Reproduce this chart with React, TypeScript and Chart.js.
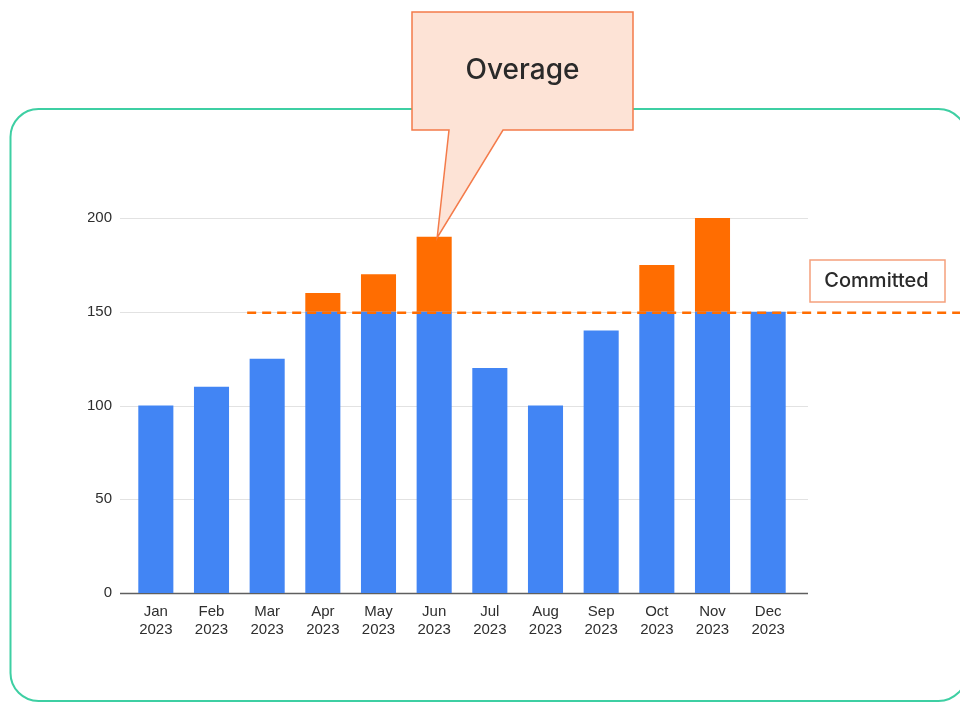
import React, { useEffect, useRef } from "react";
import { Chart, registerables } from "chart.js";

Chart.register(...registerables);

const months = ["Jan", "Feb", "Mar", "Apr", "May", "Jun", "Jul", "Aug", "Sep", "Oct", "Nov", "Dec"];
const yearLabel = "2023";
const usage = [100, 110, 125, 160, 170, 190, 120, 100, 140, 175, 200, 150];
const committed = 150;
const yTicks = [0, 50, 100, 150, 200];
const calloutText = "Overage";
const committedText = "Committed";
const calloutMonthIndex = 5;

const BLUE = "#4285F4";
const ORANGE = "#FF6D01";
const TEAL = "#3ECFA3";
const TICK_FONT = "'Liberation Sans', Arial, sans-serif";
const LABEL_FONT = "Inter, 'Open Sans', sans-serif";

function roundRectPath(ctx: CanvasRenderingContext2D, x: number, y: number, w: number, h: number, r: number) {
  ctx.beginPath();
  ctx.moveTo(x + r, y);
  ctx.lineTo(x + w - r, y);
  ctx.arcTo(x + w, y, x + w, y + r, r);
  ctx.lineTo(x + w, y + h - r);
  ctx.arcTo(x + w, y + h, x + w - r, y + h, r);
  ctx.lineTo(x + r, y + h);
  ctx.arcTo(x, y + h, x, y + h - r, r);
  ctx.lineTo(x, y + r);
  ctx.arcTo(x, y, x + r, y, r);
  ctx.closePath();
}

const cardPlugin = {
  id: "card",
  beforeDraw(chart: any) {
    const ctx = chart.ctx as CanvasRenderingContext2D;
    ctx.save();
    ctx.fillStyle = "#ffffff";
    ctx.fillRect(0, 0, chart.width, chart.height);
    roundRectPath(ctx, 10.5, 109, 956, 592, 28);
    ctx.strokeStyle = TEAL;
    ctx.lineWidth = 2;
    ctx.stroke();
    ctx.restore();
  },
};

const gridPlugin = {
  id: "customGrid",
  beforeDatasetsDraw(chart: any) {
    const ctx = chart.ctx as CanvasRenderingContext2D;
    const y = chart.scales.y;
    const left = chart.chartArea.left - 8;
    const right = chart.chartArea.right + 12;
    ctx.save();
    yTicks.forEach((v) => {
      const py = Math.round(y.getPixelForValue(v)) + 0.5;
      ctx.beginPath();
      ctx.moveTo(left, py);
      ctx.lineTo(right, py);
      ctx.strokeStyle = v === 0 ? "#5f5f5f" : "#e2e2e2";
      ctx.lineWidth = v === 0 ? 1.5 : 1;
      ctx.stroke();
    });
    ctx.restore();
  },
};

const overlayPlugin = {
  id: "overlay",
  afterDraw(chart: any) {
    const ctx = chart.ctx as CanvasRenderingContext2D;
    const xs = chart.scales.x;
    const ys = chart.scales.y;
    ctx.save();

    // committed dashed line
    const cy = ys.getPixelForValue(committed) + 1;
    const startX = xs.getPixelForValue(2) - 20;
    ctx.beginPath();
    ctx.setLineDash([9, 6]);
    ctx.moveTo(startX, cy);
    ctx.lineTo(chart.width, cy);
    ctx.strokeStyle = ORANGE;
    ctx.lineWidth = 2.5;
    ctx.stroke();
    ctx.setLineDash([]);

    // committed label box
    ctx.fillStyle = "#ffffff";
    ctx.fillRect(810, 260, 135, 42);
    ctx.strokeStyle = "#F5A07C";
    ctx.lineWidth = 1.5;
    ctx.strokeRect(810, 260, 135, 42);
    ctx.fillStyle = "#2a2a2a";
    ctx.font = `500 20px ${LABEL_FONT}`;
    ctx.textAlign = "center";
    ctx.textBaseline = "middle";
    ctx.fillText(committedText, 876.5, 281);

    // overage callout
    const tipX = xs.getPixelForValue(calloutMonthIndex) + 3;
    const tipY = ys.getPixelForValue(usage[calloutMonthIndex]) + 1;
    const bx = 412, by = 12, bw = 221, bh = 118;
    ctx.beginPath();
    ctx.moveTo(bx, by);
    ctx.lineTo(bx + bw, by);
    ctx.lineTo(bx + bw, by + bh);
    ctx.lineTo(503, by + bh);
    ctx.lineTo(tipX, tipY);
    ctx.lineTo(449, by + bh);
    ctx.lineTo(bx, by + bh);
    ctx.closePath();
    ctx.fillStyle = "#FDE3D6";
    ctx.fill();
    ctx.strokeStyle = "#F47B4A";
    ctx.lineWidth = 1.5;
    ctx.stroke();
    ctx.fillStyle = "#2a2a2a";
    ctx.font = `500 28px ${LABEL_FONT}`;
    ctx.fillText(calloutText, bx + bw / 2, 71);

    ctx.restore();
  },
};

export default function App() {
  const ref = useRef<HTMLCanvasElement | null>(null);

  useEffect(() => {
    if (!ref.current) return;
    const within = usage.map((v) => Math.min(v, committed));
    const over = usage.map((v) => Math.max(v - committed, 0));
    const chart = new Chart(ref.current, {
      type: "bar",
      data: {
        labels: months.map((m) => [m, yearLabel]),
        datasets: [
          { label: "Committed", data: within, backgroundColor: BLUE, borderWidth: 0, barPercentage: 0.63, categoryPercentage: 1 },
          { label: "Overage", data: over, backgroundColor: ORANGE, borderWidth: 0, barPercentage: 0.63, categoryPercentage: 1 },
        ],
      },
      options: {
        animation: false,
        responsive: true,
        maintainAspectRatio: false,
        layout: { padding: { top: 218, right: 164, left: 88, bottom: 61 } },
        plugins: { legend: { display: false }, tooltip: { enabled: false }, title: { display: false } },
        scales: {
          x: {
            stacked: true,
            grid: { display: false, drawTicks: false },
            border: { display: false },
            ticks: { color: "#2e2e2e", font: { family: TICK_FONT, size: 15, lineHeight: 1.2 }, padding: 10, maxRotation: 0, autoSkip: false },
            afterFit: (s: any) => { s.height = 50; },
          },
          y: {
            stacked: true,
            min: 0,
            max: 200,
            grid: { display: false, drawTicks: false },
            border: { display: false },
            ticks: { stepSize: 50, color: "#2e2e2e", font: { family: TICK_FONT, size: 15 }, padding: 16 },
            afterFit: (s: any) => { s.width = 40; },
          },
        },
      },
      plugins: [cardPlugin, gridPlugin, overlayPlugin],
    });
    return () => chart.destroy();
  }, []);

  return (
    <div style={{ position: "fixed", left: 0, top: 0, width: 960, height: 704, background: "#fff" }}>
      <canvas ref={ref} />
    </div>
  );
}
